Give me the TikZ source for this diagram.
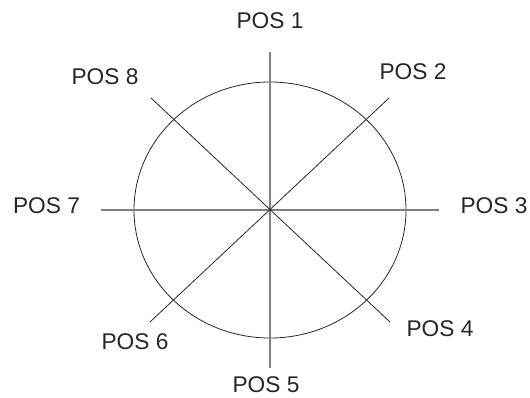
\documentclass[tikz,border=0pt]{standalone}
\usepackage{fontspec}
\setmainfont{Liberation Sans}
\definecolor{txt}{HTML}{262626}
\definecolor{axis}{HTML}{7F7F7F}
\tikzset{
  lbl/.style={font=\fontsize{22.7}{24}\selectfont, text=txt, inner sep=0pt, anchor=center},
  axisline/.style={draw=axis, line width=1.3pt},
  diag/.style={draw=black!85, line width=0.8pt},
  ring/.style={draw=black!85, line width=0.8pt}
}
\begin{document}
\begin{tikzpicture}[x=1pt,y=-1pt]
\useasboundingbox (0,0) rectangle (530,397);
\coordinate (c) at (270,210);
\coordinate (e1) at (270,52);
\coordinate (e5) at (270,368);
\coordinate (e7) at (101,210);
\coordinate (e3) at (439,210);
\coordinate (e2) at (389,98);
\coordinate (e8) at (151,98);
\coordinate (e6) at (150,322);
\coordinate (e4) at (390,322);
\draw[ring] (c) ellipse [x radius=136, y radius=128];
\draw[axisline] (e1) -- (e5);
\draw[axisline] (e7) -- (e3);
\draw[diag] (e8) -- (e4);
\draw[diag] (e2) -- (e6);
\node[lbl] (p1) at (270,21) {POS 1};
\node[lbl] (p2) at (413,72) {POS 2};
\node[lbl] (p3) at (494,206) {POS 3};
\node[lbl] (p4) at (440,329) {POS 4};
\node[lbl] (p5) at (266,385) {POS 5};
\node[lbl] (p6) at (135,342) {POS 6};
\node[lbl] (p7) at (46.5,206) {POS 7};
\node[lbl] (p8) at (105,77) {POS 8};
\end{tikzpicture}
\end{document}
